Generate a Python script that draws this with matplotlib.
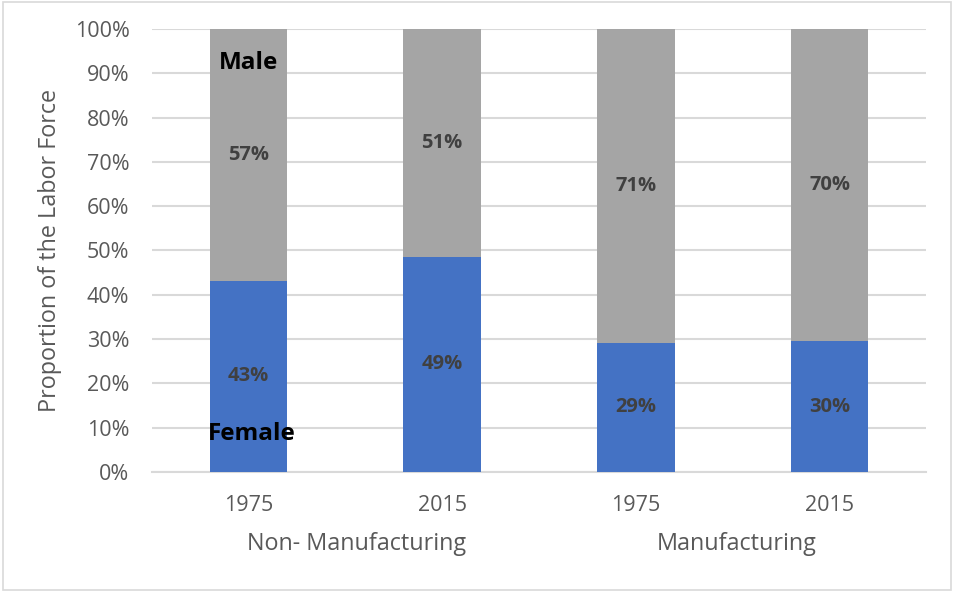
import matplotlib
matplotlib.use("Agg")
import matplotlib.pyplot as plt
from matplotlib.patches import Rectangle

plt.rcParams['font.family'] = ['Open Sans', 'DejaVu Sans']

years = ["1975", "2015", "1975", "2015"]
groups = ["Non- Manufacturing", "Manufacturing"]
female = [43.2, 48.6, 29.2, 29.5]
male = [100 - v for v in female]
female_labels = ["43%", "49%", "29%", "30%"]
male_labels = ["57%", "51%", "71%", "70%"]

BLUE = "#4472C4"
GRAY = "#A5A5A5"
GRID = "#D9D9D9"
TXT = "#595959"

fig = plt.figure(figsize=(9.54, 5.92), dpi=100)
fig.patches.append(Rectangle((0.003, 0.004), 0.994, 0.992, transform=fig.transFigure,
                             fill=False, edgecolor="#D9D9D9", linewidth=1.2))
ax = fig.add_axes([0.159, 0.203, 0.812, 0.748])

x = list(range(len(years)))
ax.bar(x, female, width=0.4, color=BLUE, zorder=3)
ax.bar(x, male, width=0.4, bottom=female, color=GRAY, zorder=3)

for i in x:
    ax.text(i, female[i] / 2, female_labels[i], ha="center", va="center",
            fontsize=14.5, fontweight="bold", color="#404040", zorder=4)
    ax.text(i, female[i] + male[i] / 2, male_labels[i], ha="center", va="center",
            fontsize=14.5, fontweight="bold", color="#404040", zorder=4)

ax.text(0, 92.3, "Male", ha="center", va="center", fontsize=17.5, fontweight="bold",
        color="black", zorder=5)
ax.text(0.015, 8.6, "Female", ha="center", va="center", fontsize=17.5, fontweight="bold",
        color="black", zorder=5)

ax.set_xlim(-0.5, 3.5)
ax.set_ylim(0, 100)
ax.set_yticks(range(0, 101, 10))
ax.set_yticklabels([f"{v}%" for v in range(0, 101, 10)], fontsize=15.5, color=TXT)
ax.set_xticks(x)
ax.set_xticklabels(years, fontsize=15.5, color=TXT)
ax.tick_params(axis="both", length=0)
ax.tick_params(axis="y", pad=16)
ax.tick_params(axis="x", pad=17)

ax.yaxis.grid(True, color=GRID, linewidth=1.5, zorder=0)
for s in ["top", "right", "left"]:
    ax.spines[s].set_visible(False)
ax.spines["bottom"].set_color(GRID)
ax.spines["bottom"].set_linewidth(1.5)

for gi, g in enumerate(groups):
    cx = 2 * gi + 0.5 + (0.06 if gi == 0 else 0.02)
    ax.text(cx, -16.3, g, ha="center", va="center", fontsize=16.8, color=TXT,
            transform=ax.transData)

ax.set_ylabel("Proportion of the Labor Force", fontsize=16.8, color=TXT, labelpad=9)

fig.savefig("out.png", dpi=100)
